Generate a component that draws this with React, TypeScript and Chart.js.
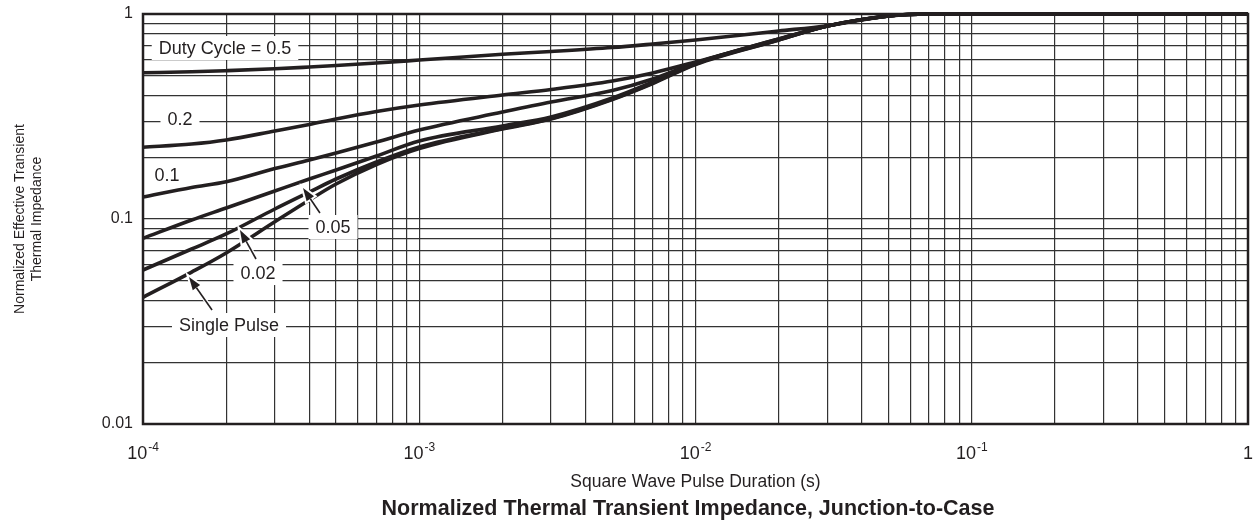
import React, { useEffect, useRef } from 'react';
import { Chart, registerables } from 'chart.js';

Chart.register(...registerables);

const FONT = "'Liberation Sans', Arial, Helvetica, sans-serif";
const INK = '#231f20';
const GRID = '#333333';

// ---- data ----
const pulseDuration = [1e-4, 1.5e-4, 2e-4, 3e-4, 4e-4, 5e-4, 7e-4, 1e-3, 2e-3, 3e-3, 5e-3, 7e-3, 1e-2, 2e-2, 3e-2, 5e-2, 7e-2, 1e-1, 1];
const duty05 = [0.517, 0.5224, 0.529, 0.5403, 0.5513, 0.5607, 0.5767, 0.596, 0.636, 0.656, 0.686, 0.7137, 0.747, 0.826, 0.877, 0.978, 1, 1, 1];
const duty02 = [0.224, 0.2322, 0.243, 0.2687, 0.2891, 0.3075, 0.3345, 0.3598, 0.4026, 0.4282, 0.471, 0.5157, 0.5832, 0.755, 0.874, 0.978, 1, 1, 1];
const duty01 = [0.128, 0.1425, 0.152, 0.1763, 0.194, 0.2099, 0.2374, 0.2717, 0.3323, 0.3721, 0.4234, 0.4818, 0.5767, 0.755, 0.874, 0.978, 1, 1, 1];
const duty005 = [0.0805, 0.0989, 0.1131, 0.1369, 0.1567, 0.1734, 0.2029, 0.2402, 0.2842, 0.3145, 0.3892, 0.466, 0.5735, 0.7509, 0.874, 0.978, 1, 1, 1];
const duty002 = [0.0564, 0.0714, 0.0845, 0.1119, 0.1354, 0.1567, 0.1897, 0.2245, 0.2763, 0.3092, 0.3849, 0.4607, 0.5704, 0.7465, 0.874, 0.978, 1, 1, 1];
const singlePulse = [0.0415, 0.0551, 0.0683, 0.0969, 0.1238, 0.1482, 0.1844, 0.2208, 0.2748, 0.3075, 0.3828, 0.4581, 0.5672, 0.7465, 0.874, 0.978, 1, 1, 1];

const seriesNames = ['Duty Cycle = 0.5', '0.2', '0.1', '0.05', '0.02', 'Single Pulse'];
const seriesValues = [duty05, duty02, duty01, duty005, duty002, singlePulse];

// tick labels
const xTickValues = [1e-4, 1e-3, 1e-2, 1e-1, 1];
const xTickBase = ['10', '10', '10', '10', '1'];
const xTickExp = ['-4', '-3', '-2', '-1', ''];
const yTickValues = [0.01, 0.1, 1];
const yTickLabels = ['0.01', '0.1', '1'];

const xAxisTitle = 'Square Wave Pulse Duration (s)';
const yAxisTitle = ['Normalized Effective Transient', 'Thermal Impedance'];
const chartTitle = 'Normalized Thermal Transient Impedance, Junction-to-Case';

// in-plot annotations (data coordinates)
const labelText = ['Duty Cycle = 0.5', '0.2', '0.1', '0.05', '0.02', 'Single Pulse'];
const labelT = [1.981e-4, 1.361e-4, 1.222e-4, 4.874e-4, 2.608e-4, 2.048e-4];
const labelV = [0.6826, 0.3074, 0.1639, 0.0914, 0.0545, 0.0304];

const arrowFromT = [4.37e-4, 2.565e-4, 1.778e-4];
const arrowFromV = [0.107, 0.0638, 0.036];
const arrowTipT = [3.795e-4, 2.244e-4, 1.467e-4];
const arrowTipV = [0.1416, 0.0884, 0.0521];

function logGrid(minExp: number, maxExp: number) {
  const out: number[] = [];
  for (let e = minExp; e < maxExp; e++) {
    for (let m = 1; m < 10; m++) out.push(m * Math.pow(10, e));
  }
  out.push(Math.pow(10, maxExp));
  return out;
}
const xGrid = logGrid(-4, 0);
const yGrid = logGrid(-2, 0);

const decorPlugin = {
  id: 'decor',
  beforeDatasetsDraw(chart: any) {
    const { ctx, scales } = chart;
    const x = scales.x;
    const y = scales.y;
    ctx.save();
    ctx.font = `18px ${FONT}`;
    ctx.textAlign = 'center';
    ctx.textBaseline = 'middle';
    labelText.forEach((txt, i) => {
      const cx = x.getPixelForValue(labelT[i]);
      const cy = y.getPixelForValue(labelV[i]);
      const w = ctx.measureText(txt).width + 14;
      ctx.fillStyle = '#ffffff';
      ctx.fillRect(cx - w / 2, cy - 12, w, 24);
      ctx.fillStyle = INK;
      ctx.fillText(txt, cx, cy + 1);
    });
    ctx.restore();
  },
  afterDatasetsDraw(chart: any) {
    const { ctx, scales, chartArea } = chart;
    const x = scales.x;
    const y = scales.y;
    ctx.save();
    // arrows
    arrowFromT.forEach((_, i) => {
      const fx = x.getPixelForValue(arrowFromT[i]);
      const fy = y.getPixelForValue(arrowFromV[i]);
      const tx = x.getPixelForValue(arrowTipT[i]);
      const ty = y.getPixelForValue(arrowTipV[i]);
      const ang = Math.atan2(ty - fy, tx - fx);
      const L = 13;
      const H = 4.5;
      const bx = tx - L * Math.cos(ang);
      const by = ty - L * Math.sin(ang);
      const px = -Math.sin(ang);
      const py = Math.cos(ang);
      const head = () => {
        ctx.beginPath();
        ctx.moveTo(tx, ty);
        ctx.lineTo(bx + H * px, by + H * py);
        ctx.lineTo(bx - H * px, by - H * py);
        ctx.closePath();
      };
      ctx.strokeStyle = '#ffffff';
      ctx.lineWidth = 4;
      head();
      ctx.stroke();
      ctx.beginPath();
      ctx.moveTo(fx, fy);
      ctx.lineTo(bx, by);
      ctx.stroke();
      ctx.fillStyle = INK;
      ctx.strokeStyle = INK;
      ctx.lineWidth = 1.6;
      ctx.beginPath();
      ctx.moveTo(fx, fy);
      ctx.lineTo(bx, by);
      ctx.stroke();
      head();
      ctx.fill();
    });
    // frame
    ctx.strokeStyle = INK;
    ctx.lineWidth = 2.5;
    ctx.strokeRect(chartArea.left, chartArea.top, chartArea.right - chartArea.left, chartArea.bottom - chartArea.top);
    // x tick labels with superscript exponents
    ctx.fillStyle = INK;
    ctx.textAlign = 'left';
    ctx.textBaseline = 'alphabetic';
    const baseY = chartArea.bottom + 35;
    xTickValues.forEach((v, i) => {
      const px = x.getPixelForValue(v);
      ctx.font = `18px ${FONT}`;
      const wb = ctx.measureText(xTickBase[i]).width;
      ctx.font = `12px ${FONT}`;
      const we = xTickExp[i] ? ctx.measureText(xTickExp[i]).width + 1 : 0;
      const start = px - (wb + we) / 2;
      ctx.font = `18px ${FONT}`;
      ctx.fillText(xTickBase[i], start, baseY);
      if (xTickExp[i]) {
        ctx.font = `12px ${FONT}`;
        ctx.fillText(xTickExp[i], start + wb + 1, baseY - 8);
      }
    });
    // chart title
    ctx.font = `bold 21.5px ${FONT}`;
    ctx.textAlign = 'center';
    ctx.textBaseline = 'middle';
    ctx.fillText(chartTitle, 688, 509);
    ctx.restore();
  },
};

export default function App() {
  const canvasRef = useRef<HTMLCanvasElement | null>(null);

  useEffect(() => {
    const canvas = canvasRef.current;
    if (!canvas) return;
    const chart = new Chart(canvas, {
      type: 'line',
      data: {
        datasets: seriesValues.map((vals, i) => ({
          label: seriesNames[i],
          data: pulseDuration.map((t, j) => ({ x: t, y: vals[j] })),
          borderColor: INK,
          backgroundColor: INK,
          borderWidth: 3.6,
          pointRadius: 0,
          cubicInterpolationMode: 'monotone' as const,
          fill: false,
          clip: 4,
        })),
      },
      options: {
        responsive: true,
        maintainAspectRatio: false,
        animation: false,
        layout: { padding: { top: 14, right: 11, left: 0, bottom: 0 } },
        plugins: {
          legend: { display: false },
          tooltip: { enabled: false },
          title: { display: false },
        },
        scales: {
          x: {
            type: 'logarithmic',
            min: 1e-4,
            max: 1,
            afterBuildTicks: (s: any) => {
              s.ticks = xGrid.map((v) => ({ value: v }));
            },
            afterFit: (s: any) => {
              s.height = 525 - 424;
              s.paddingLeft = 0;
              s.paddingRight = 0;
            },
            ticks: { display: false, autoSkip: false },
            grid: { color: GRID, lineWidth: 1.2, drawTicks: false },
            border: { display: false },
            title: {
              display: true,
              text: xAxisTitle,
              color: INK,
              font: { family: FONT, size: 17.5, lineHeight: 1.2 },
              padding: { top: 0, bottom: 32.5 },
            },
          },
          y: {
            type: 'logarithmic',
            min: 0.01,
            max: 1,
            afterBuildTicks: (s: any) => {
              s.ticks = yGrid.map((v) => ({ value: v }));
            },
            afterFit: (s: any) => {
              s.width = 143;
              s.paddingTop = 0;
              s.paddingBottom = 0;
            },
            ticks: {
              autoSkip: false,
              padding: 10,
              color: INK,
              font: { family: FONT, size: 16 },
              callback: (value: any) => {
                const idx = yTickValues.findIndex((v) => Math.abs(v - Number(value)) / v < 1e-6);
                return idx >= 0 ? yTickLabels[idx] : '';
              },
            },
            grid: { color: GRID, lineWidth: 1.2, drawTicks: false },
            border: { display: false },
            title: {
              display: true,
              text: yAxisTitle,
              color: INK,
              font: { family: FONT, size: 14, lineHeight: 1.21 },
              padding: { top: 11.5, bottom: 0 },
            },
          },
        },
      },
      plugins: [decorPlugin],
    });
    return () => chart.destroy();
  }, []);

  return (
    <div style={{ position: 'fixed', left: 0, top: 0, width: 1259, height: 525, background: '#ffffff' }}>
      <canvas ref={canvasRef} />
    </div>
  );
}
